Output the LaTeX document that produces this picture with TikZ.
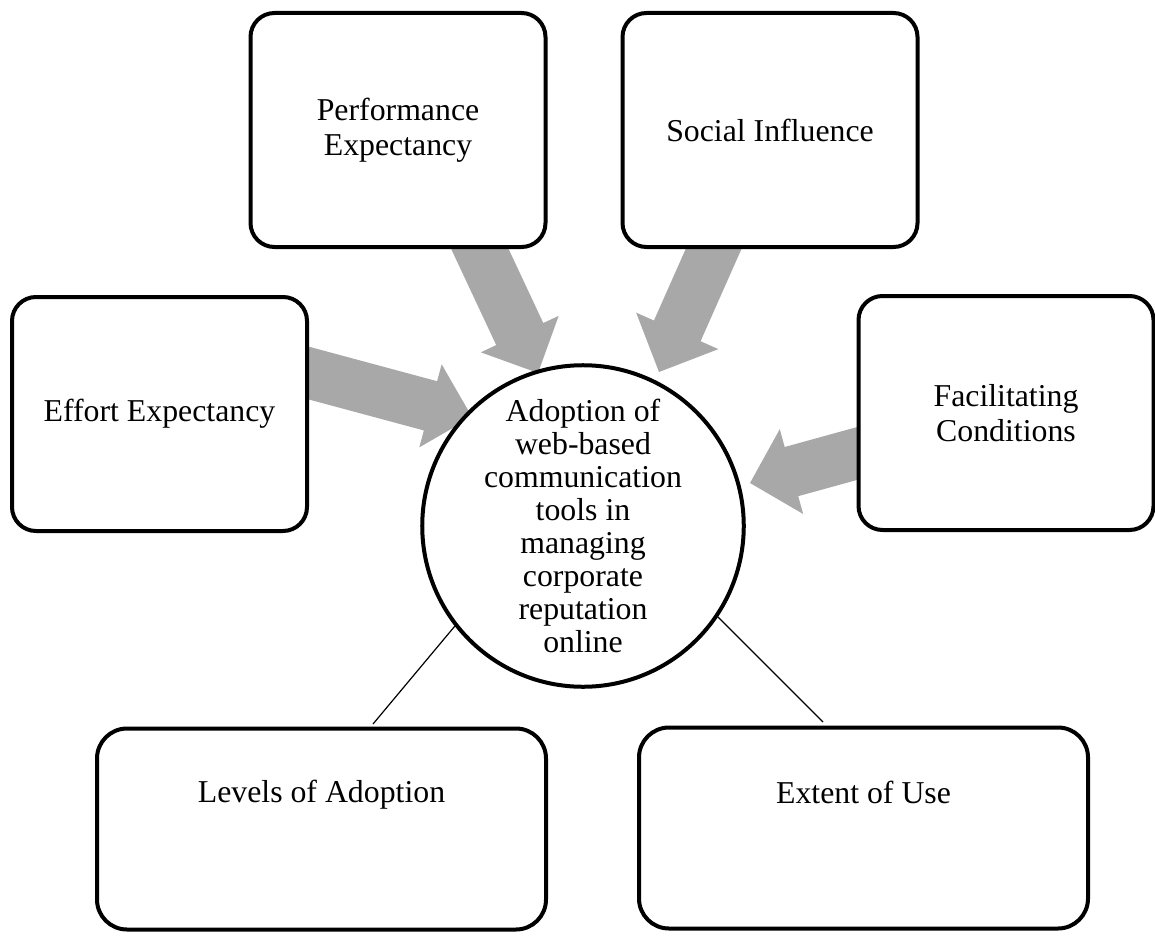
\documentclass[tikz,border=0pt]{standalone}
\usepackage{fontspec}
\setmainfont{Liberation Serif}
\usetikzlibrary{calc,backgrounds}

\definecolor{arrowgray}{RGB}{168,168,168}
\newcommand\boxfont{\fontsize{31.8pt}{35pt}\selectfont}
\newcommand\hubfont{\fontsize{31.8pt}{33pt}\selectfont}

% gray block arrow: #1 start, #2 tip, #3 shaft half width, #4 head half width, #5 head length
\newcommand\grayarrow[5]{%
  \coordinate (ga-base) at ($(#2)!#5!(#1)$);
  \fill[flowarrow]
    ($(#1)!#3!90:(#2)$) -- ($(ga-base)!#3!90:(#2)$) -- ($(ga-base)!#4!90:(#2)$)
    -- (#2)
    -- ($(ga-base)!#4!-90:(#2)$) -- ($(ga-base)!#3!-90:(#2)$) -- ($(#1)!#3!-90:(#2)$)
    -- cycle;
}

\tikzset{
  factor/.style={draw=black, line width=4pt, rounded corners=24pt, fill=white,
    minimum width=295pt, minimum height=234pt, align=center, inner sep=0pt, font=\boxfont},
  outcome/.style={draw=black, line width=4pt, rounded corners=30pt, fill=white,
    minimum width=449pt, minimum height=201pt, inner sep=0pt},
  caption/.style={align=center, inner sep=0pt, font=\boxfont},
  hub/.style={circle, draw=black, line width=4pt, fill=white, minimum size=309pt,
    align=center, inner sep=0pt, font=\hubfont},
  flowarrow/.style={fill=arrowgray},
  link/.style={draw=black, line width=1.2pt}
}

\begin{document}
\begin{tikzpicture}[x=1pt,y=-1pt]
  \useasboundingbox (0,0) rectangle (1155,936);

  % influencing factors
  \node[factor] (pe) at (398,130) {Performance\\Expectancy};
  \node[factor] (si) at (770,130) {Social Influence};
  \node[factor] (ee) at (159.5,414) {Effort Expectancy};
  \node[factor] (fc) at (1006,413) {Facilitating\\Conditions};

  % central construct
  \node[hub] (ad) at (583,526) {Adoption of\\web-based\\communication\\tools in\\managing\\corporate\\reputation\\online};

  % outcomes
  \node[outcome] (lv) at (321.5,829) {};
  \node[caption] (lvtxt) at (321.5,795) {Levels of Adoption};
  \node[outcome] (eu) at (863.5,828) {};
  \node[caption] (eutxt) at (863.5,792) {Extent of Use};

  % arrow anchor points
  \coordinate (pe-s) at (471,230);
  \coordinate (pe-t) at (538,373);
  \coordinate (si-s) at (722,230);
  \coordinate (si-t) at (659,372);
  \coordinate (ee-s) at (290,368);
  \coordinate (ee-t) at (472,417);
  \coordinate (fc-s) at (877,448);
  \coordinate (fc-t) at (750,483);

  \begin{pgfonlayer}{background}
    \grayarrow{pe-s}{pe-t}{26pt}{43pt}{43pt}
    \grayarrow{si-s}{si-t}{25.5pt}{45pt}{45pt}
    \grayarrow{ee-s}{ee-t}{25.5pt}{43pt}{43pt}
    \grayarrow{fc-s}{fc-t}{25.5pt}{44pt}{43pt}
  \end{pgfonlayer}

  % links to the outcomes
  \coordinate (lv-end) at (373,724);
  \coordinate (eu-end) at (823,722);
  \draw[link] (ad.218) -- (lv-end);
  \draw[link] (ad.326) -- (eu-end);
\end{tikzpicture}
\end{document}
